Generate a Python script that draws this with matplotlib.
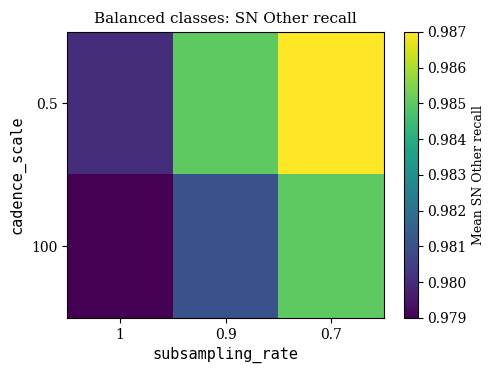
import numpy as np
import matplotlib
matplotlib.use("Agg")
import matplotlib.pyplot as plt

# grid values
cadence_scale = ["0.5", "100"]
subsampling_rate = ["1", "0.9", "0.7"]
recall = np.array([[0.98004, 0.98500, 0.98700],
                   [0.97900, 0.98100, 0.98500]])

fig = plt.figure(figsize=(4.98, 3.74), dpi=100)
ax = fig.add_axes([0.135, 0.15, 0.636, 0.765])
cax = fig.add_axes([0.811, 0.15, 0.028, 0.765])

im = ax.imshow(recall, cmap="viridis", aspect="auto", vmin=0.979, vmax=0.987,
               interpolation="nearest")
ax.set_xticks(range(len(subsampling_rate)))
ax.set_xticklabels(subsampling_rate, family="DejaVu Serif", fontsize=10)
ax.set_yticks(range(len(cadence_scale)))
ax.set_yticklabels(cadence_scale, family="DejaVu Serif", fontsize=10)
ax.set_xlabel("subsampling_rate", family="DejaVu Sans Mono", fontsize=11)
ax.set_ylabel("cadence_scale", family="DejaVu Sans Mono", fontsize=11)
ax.set_title("Balanced classes: SN Other recall", family="DejaVu Serif", fontsize=11)

cb = fig.colorbar(im, cax=cax, ticks=np.arange(0.979, 0.98701, 0.001))
cb.ax.set_yticklabels(["%.3f" % t for t in np.arange(0.979, 0.98701, 0.001)],
                      family="DejaVu Serif", fontsize=10)
cb.set_label("Mean SN Other recall", family="DejaVu Serif", fontsize=9)

fig.savefig("out.png", dpi=100)
